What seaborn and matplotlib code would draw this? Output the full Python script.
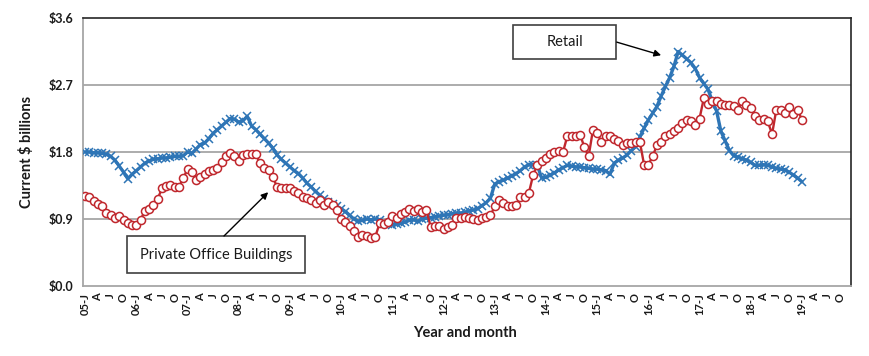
import matplotlib
matplotlib.use("Agg")
import matplotlib.pyplot as plt
from matplotlib.patches import Rectangle
import seaborn as sns
import pandas as pd

# ---------------- data (Jan 2005 .. Jan 2019, monthly, $ billions) ----------------
retail = [
    1.80, 1.80, 1.79, 1.79, 1.78, 1.77, 1.74, 1.69, 1.61, 1.53, 1.44, 1.50,   # 2005
    1.55, 1.60, 1.65, 1.68, 1.70, 1.71, 1.72, 1.72, 1.73, 1.74, 1.74, 1.75,   # 2006
    1.80, 1.78, 1.84, 1.90, 1.92, 1.98, 2.05, 2.10, 2.15, 2.20, 2.25, 2.24,   # 2007
    2.20, 2.22, 2.28, 2.15, 2.10, 2.04, 1.98, 1.92, 1.85, 1.76, 1.70, 1.65,   # 2008
    1.60, 1.55, 1.51, 1.45, 1.38, 1.33, 1.27, 1.22, 1.17, 1.13, 1.10, 1.07,   # 2009
    1.04, 1.00, 0.95, 0.90, 0.87, 0.88, 0.90, 0.89, 0.90, 0.89, 0.86, 0.83,   # 2010
    0.82, 0.83, 0.84, 0.86, 0.88, 0.89, 0.87, 0.90, 0.91, 0.92, 0.93, 0.94,   # 2011
    0.95, 0.96, 0.97, 0.98, 0.98, 0.99, 1.01, 1.02, 1.04, 1.08, 1.12, 1.18,   # 2012
    1.37, 1.40, 1.42, 1.45, 1.48, 1.51, 1.55, 1.60, 1.63, 1.63, 1.62, 1.45,   # 2013
    1.46, 1.49, 1.52, 1.56, 1.59, 1.62, 1.61, 1.60, 1.60, 1.59, 1.58, 1.57,   # 2014
    1.57, 1.56, 1.55, 1.50, 1.65, 1.69, 1.72, 1.76, 1.82, 1.87, 2.00, 2.12,   # 2015
    2.23, 2.32, 2.41, 2.55, 2.68, 2.80, 2.95, 3.15, 3.10, 3.05, 3.00, 2.92,   # 2016
    2.80, 2.72, 2.64, 2.48, 2.35, 2.08, 1.95, 1.82, 1.75, 1.73, 1.71, 1.69,   # 2017
    1.66, 1.62, 1.62, 1.63, 1.62, 1.60, 1.58, 1.57, 1.56, 1.53, 1.49, 1.45,   # 2018
    1.40,                                                                     # 2019
]
office = [
    1.21, 1.19, 1.14, 1.10, 1.07, 0.98, 0.95, 0.92, 0.94, 0.89, 0.84, 0.82,   # 2005
    0.82, 0.89, 1.01, 1.04, 1.09, 1.17, 1.31, 1.35, 1.36, 1.33, 1.33, 1.45,   # 2006
    1.57, 1.53, 1.43, 1.47, 1.51, 1.54, 1.56, 1.59, 1.67, 1.75, 1.79, 1.74,   # 2007
    1.68, 1.76, 1.77, 1.77, 1.77, 1.65, 1.59, 1.56, 1.46, 1.33, 1.32, 1.32,   # 2008
    1.32, 1.27, 1.25, 1.19, 1.18, 1.16, 1.11, 1.16, 1.09, 1.13, 1.09, 1.02,   # 2009
    0.90, 0.86, 0.80, 0.74, 0.66, 0.69, 0.67, 0.65, 0.66, 0.84, 0.83, 0.86,   # 2010
    0.94, 0.92, 0.97, 1.00, 1.03, 1.01, 1.04, 1.00, 1.02, 0.79, 0.80, 0.80,   # 2011
    0.76, 0.79, 0.82, 0.92, 0.92, 0.93, 0.91, 0.90, 0.89, 0.91, 0.93, 0.95,   # 2012
    1.07, 1.15, 1.12, 1.07, 1.07, 1.09, 1.19, 1.19, 1.25, 1.49, 1.63, 1.68,   # 2013
    1.72, 1.77, 1.80, 1.81, 1.80, 2.01, 2.01, 2.02, 2.03, 1.87, 1.74, 2.09,   # 2014
    2.05, 1.94, 2.01, 2.01, 1.98, 1.95, 1.89, 1.92, 1.92, 1.93, 1.94, 1.63,   # 2015
    1.63, 1.74, 1.89, 1.94, 2.01, 2.04, 2.08, 2.12, 2.19, 2.23, 2.22, 2.16,   # 2016
    2.25, 2.52, 2.45, 2.48, 2.49, 2.44, 2.43, 2.43, 2.42, 2.37, 2.48, 2.43,   # 2017
    2.39, 2.28, 2.23, 2.25, 2.21, 2.04, 2.37, 2.36, 2.32, 2.40, 2.31, 2.37,   # 2018
    2.23,                                                                     # 2019
]
years = list(range(5, 20))                 # 05 .. 19 on the axis
quarter_letters = ["J", "A", "J", "O"]     # Jan, Apr, Jul, Oct
y_ticks = [0.0, 0.9, 1.8, 2.7, 3.6]
y_tick_labels = ["$0.0", "$0.9", "$1.8", "$2.7", "$3.6"]

# ---------------- figure ----------------
sns.set_style("white")
plt.rcParams["font.family"] = ["Lato", "DejaVu Sans"]

BLUE = "#2E75B6"
RED = "#C0272D"

fig = plt.figure(figsize=(8.7, 3.56), dpi=100)
ax = fig.add_axes([83 / 870, 1 - 286 / 356, 768 / 870, 268 / 356])

n_months = len(years) * 12
df_r = pd.DataFrame({"month": range(len(retail)), "value": retail})
df_o = pd.DataFrame({"month": range(len(office)), "value": office})

sns.lineplot(data=df_r, x="month", y="value", ax=ax, color=BLUE, lw=2.4,
             marker="x", markersize=5.2, mec=BLUE, mew=1.1, legend=False,
             errorbar=None, zorder=3)
sns.lineplot(data=df_o, x="month", y="value", ax=ax, color=RED, lw=1.7,
             marker="o", markersize=5.8, mec=RED, mfc="white", mew=1.1,
             legend=False, errorbar=None, zorder=4)

# axes limits / grid
ax.set_xlim(-0.5, n_months - 0.5)
ax.set_ylim(0, 3.6)
ax.set_yticks(y_ticks)
ax.set_yticklabels(y_tick_labels, fontsize=9, fontweight="bold", color="#1a1a1a")
ax.tick_params(axis="y", length=0, pad=7)
for yv in y_ticks[1:-1]:
    ax.axhline(yv, color="#a6a6a6", lw=1.3, zorder=1)

# x ticks: every month a tick mark, a label every quarter
xt = list(range(n_months))
xl = []
for m in xt:
    if m % 3 != 0:
        xl.append("")
    elif m % 12 == 0:
        xl.append(f"{years[m // 12]:02d}-J")
    else:
        xl.append(quarter_letters[(m % 12) // 3])
ax.set_xticks(xt)
ax.set_xticklabels(xl, rotation=90, fontsize=8, fontweight="bold", color="#1a1a1a")
ax.tick_params(axis="x", length=3, width=0.8, color="#a6a6a6", pad=2)

# spines
for s in ["top", "right"]:
    ax.spines[s].set_color("#262626")
    ax.spines[s].set_linewidth(1.2)
ax.spines["left"].set_color("#a6a6a6")
ax.spines["left"].set_linewidth(1.3)
ax.spines["bottom"].set_color("#a6a6a6")
ax.spines["bottom"].set_linewidth(1.3)

ax.set_xlabel("Year and month", fontsize=10.5, fontweight="bold", color="#1a1a1a")
ax.set_ylabel("Current $ billions", fontsize=10.5, fontweight="bold", color="#1a1a1a")
ax.xaxis.set_label_coords(0.497, -0.15)
ax.yaxis.set_label_coords(-0.064, 0.5)

# ---------------- callouts ----------------
def callout(x0, y0, w, h, text, start, tip):
    ax.add_patch(Rectangle((x0, y0), w, h, transform=ax.transAxes, fill=True,
                           facecolor="white", edgecolor="#404040", lw=1.2,
                           zorder=6, clip_on=False))
    ax.text(x0 + w / 2, y0 + h / 2, text, transform=ax.transAxes, ha="center",
            va="center", fontsize=10.5, color="#1a1a1a", zorder=7)
    ax.annotate("", xy=tip, xycoords="data", xytext=start, textcoords="axes fraction",
                arrowprops=dict(arrowstyle="-|>", color="black", lw=1.0,
                                mutation_scale=10, shrinkA=0, shrinkB=0),
                zorder=7)

callout(0.560, 0.847, 0.134, 0.127, "Retail", (0.695, 0.910), (135, 3.10))
callout(0.0573, 0.0485, 0.2318, 0.138, "Private Office Buildings",
        (0.1836, 0.1866), (42.9, 1.26))

fig.savefig("out.png", dpi=100)
